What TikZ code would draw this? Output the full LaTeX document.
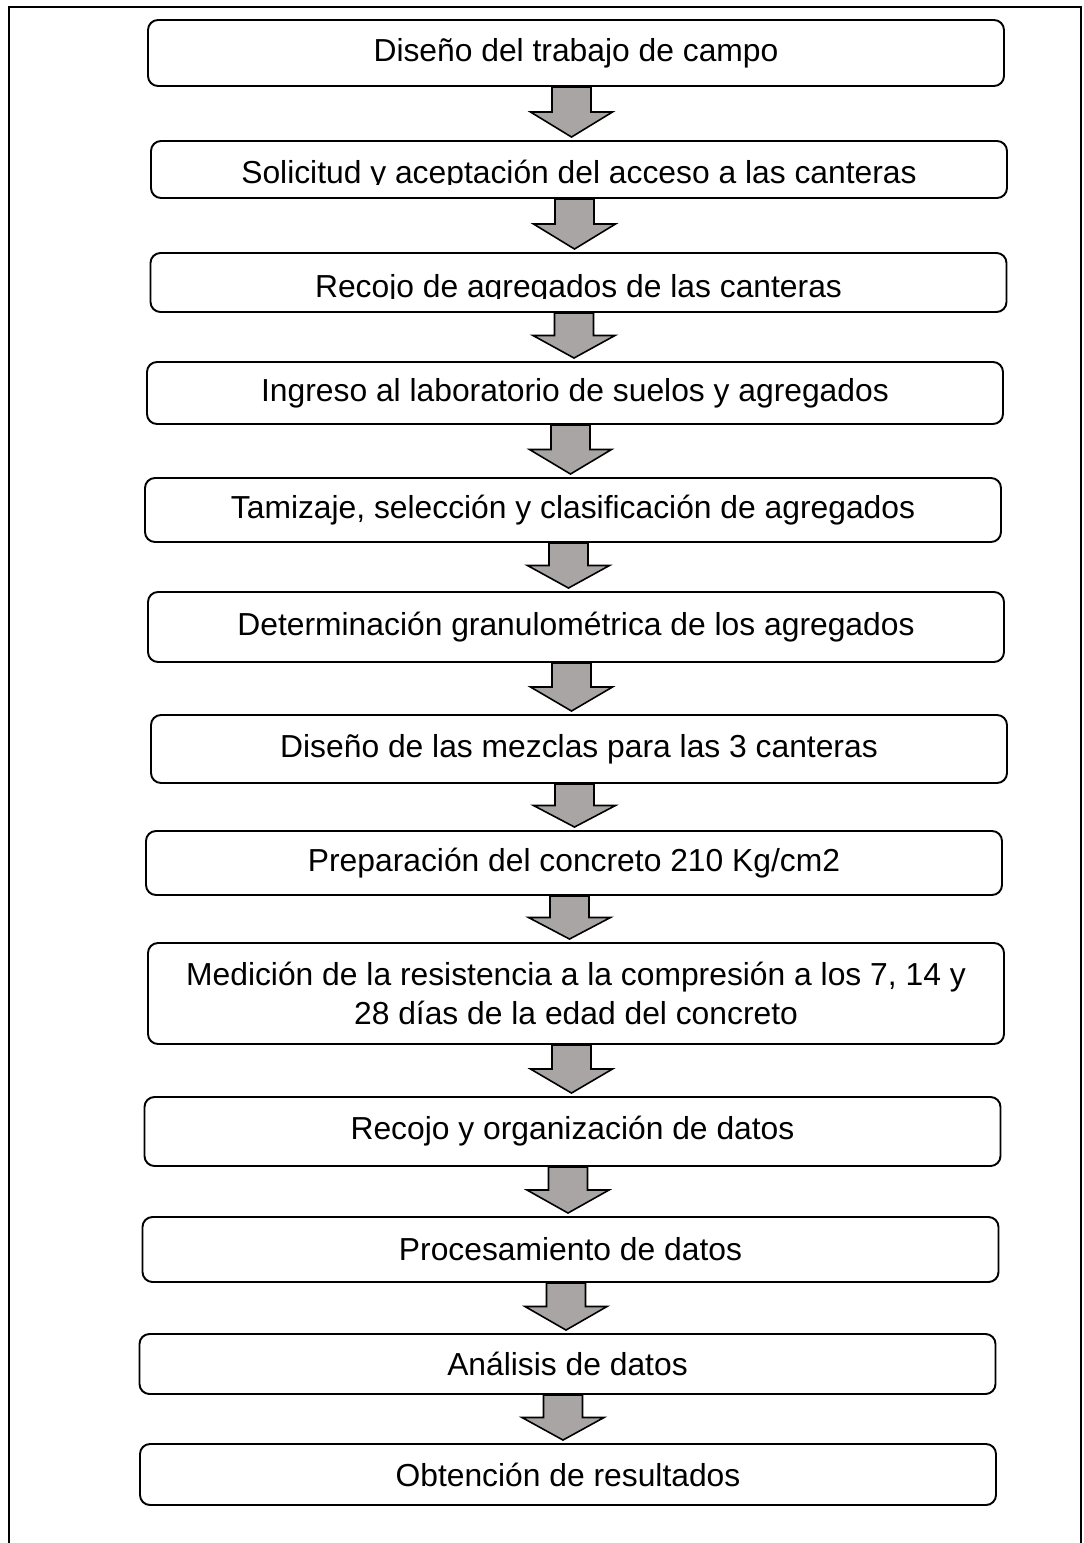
\documentclass[tikz,border=0pt]{standalone}
\usepackage{fontspec}
\setmainfont{Liberation Sans}
\usetikzlibrary{calc}

\definecolor{flechagris}{RGB}{169,165,164}
\newcommand{\pasofont}{\fontsize{18.1pt}{21.8pt}\selectfont}

\tikzset{
	paso/.style={draw, line width=1.1pt, rounded corners=0.2cm, minimum width=17.12cm,
		inner sep=0pt, align=center, font=\pasofont},
	flecha/.style={draw, line width=0.9pt, fill=flechagris,
		to path={let \p1=($(\tikztostart.south)+(-0.09,0)$), \p2=($(\tikztotarget.north)+(-0.09,0.06)$),
			\p3=($(\p1)!0.5!(\p2)$) in
			(\x1-0.39cm,\y1) -- (\x1-0.39cm,\y3) -- (\x1-0.82cm,\y3) -- (\x1,\y2)
			-- (\x1+0.82cm,\y3) -- (\x1+0.39cm,\y3) -- (\x1+0.39cm,\y1) -- cycle}}
}

\begin{document}
\begin{tikzpicture}
		\useasboundingbox (0,0) rectangle (21.68,-30.86);
		% marco
		\draw[line width=0.8pt] (0.18,-30.86) -- (0.18,-0.14) -- (21.62,-0.14) -- (21.62,-30.86);

		\node[paso, minimum height=1.32cm] (b1) at (11.52,-1.06) {Diseño del trabajo de campo};
		\node[paso, minimum height=1.14cm] (b2) at (11.58,-3.39) {};
		\node[paso, minimum height=1.18cm] (b3) at (11.57,-5.65) {};
		\node[paso, minimum height=1.24cm] (b4) at (11.50,-7.86) {Ingreso al laboratorio de suelos y agregados};
		\node[paso, minimum height=1.28cm] (b5) at (11.46,-10.20) {Tamizaje, selección y clasificación de agregados};
		\node[paso, minimum height=1.40cm] (b6) at (11.52,-12.54) {Determinación granulométrica de los agregados};
		\node[paso, minimum height=1.36cm] (b7) at (11.58,-14.98) {Diseño de las mezclas para las 3 canteras};
		\node[paso, minimum height=1.28cm] (b8) at (11.48,-17.26) {Preparación del concreto 210 Kg/cm2};
		\node[paso, minimum height=2.02cm] (b9) at (11.52,-19.87) {Medición de la resistencia a la compresión a los 7, 14 y\\28 días de la edad del concreto};
		\node[paso, minimum height=1.38cm] (b10) at (11.45,-22.63) {Recojo y organización de datos};
		\node[paso, minimum height=1.30cm] (b11) at (11.41,-24.99) {Procesamiento de datos};
		\node[paso, minimum height=1.20cm] (b12) at (11.35,-27.28) {Análisis de datos};
		\node[paso, minimum height=1.22cm] (b13) at (11.36,-29.49) {Obtención de resultados};

		% texto recortado en las cajas 2 y 3
		\begin{scope}
			\clip (b2.north west) rectangle ($(b2.south east)+(0,0.29)$);
			\node[anchor=base, font=\pasofont] (t2) at ($(b2.south)+(0,0.30)$) {Solicitud y aceptación del acceso a las canteras};
		\end{scope}
		\begin{scope}
			\clip (b3.north west) rectangle ($(b3.south east)+(0,0.29)$);
			\node[anchor=base, font=\pasofont] (t3) at ($(b3.south)+(0,0.30)$) {Recojo de agregados de las canteras};
		\end{scope}

		\foreach \a/\b in {b1/b2,b2/b3,b3/b4,b4/b5,b5/b6,b6/b7,b7/b8,b8/b9,b9/b10,b10/b11,b11/b12,b12/b13}
			\draw[flecha] (\a) to (\b);
	\end{tikzpicture}
\end{document}
